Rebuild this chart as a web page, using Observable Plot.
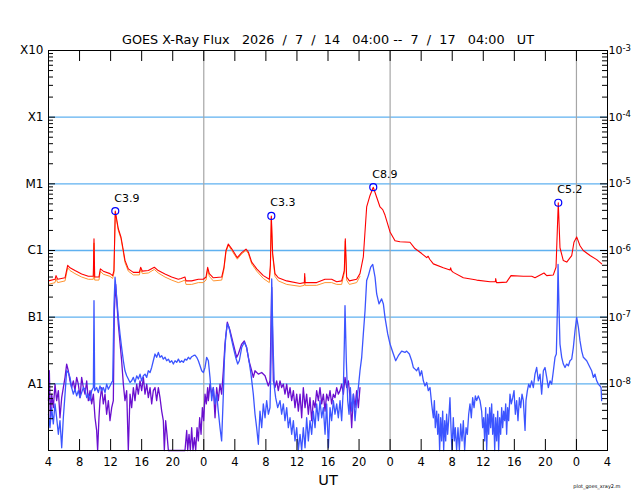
<!DOCTYPE html>
<html><head><meta charset="utf-8">
<script src="https://cdn.jsdelivr.net/npm/d3@7"></script>
<script src="https://cdn.jsdelivr.net/npm/@observablehq/plot@0.6"></script>
<style>
body{margin:0;background:#fff;}
svg text{white-space:pre;}
</style></head><body><div id="chart"></div>
<script>
// time axis: hours since 2026-07-14 04:00 UT
const startUTC = Date.UTC(2026, 6, 14, 4);
const endUTC = Date.UTC(2026, 6, 17, 4);
const titleText = "GOES X-Ray Flux   2026  /  7  /  14   04:00 --  7  /  17   04:00   UT";
const levelValues = [1e-3, 1e-4, 1e-5, 1e-6, 1e-7, 1e-8];
const levelLabels = ["X10", "X1", "M1", "C1", "B1", "A1"];
const powerExponents = ["-3", "-4", "-5", "-6", "-7", "-8"];
const gridLevels = [1e-4, 1e-5, 1e-6, 1e-7, 1e-8];
const midnights = [Date.UTC(2026, 6, 15), Date.UTC(2026, 6, 16), Date.UTC(2026, 6, 17)];

const flares = [
  {t: 8.6, flux: 3.9e-6, label: "C3.9"},
  {t: 28.7, flux: 3.3e-6, label: "C3.3"},
  {t: 41.83, flux: 8.9e-6, label: "C8.9"},
  {t: 65.66, flux: 5.2e-6, label: "C5.2"}
];

// 1-8 A primary (red)
const longPrimary = [
[0,3.5e-7],[0.84,3.7e-7],[0.97,4.2e-7],[1.18,3.7e-7],[2.13,3.9e-7],[2.47,6.0e-7],[2.77,5.5e-7],[3.41,5.0e-7],
[4.27,4.45e-7],[5.13,4.1e-7],[5.77,4.1e-7],[5.86,1.5e-6],[5.95,4.0e-7],[6.5,4.0e-7],[6.68,5.3e-7],[7.06,4.9e-7],
[7.92,4.5e-7],[8.26,4.2e-7],[8.43,5e-7],[8.6,3.9e-6],[8.99,2.12e-6],[9.34,1.58e-6],[9.64,1.0e-6],[9.85,7.1e-7],
[10.28,5.3e-7],[10.92,4.7e-7],[11.7,4.7e-7],[11.87,5.6e-7],[12.09,4.9e-7],[12.86,5.0e-7],[13.63,5.6e-7],[14.14,5.0e-7],
[15.0,4.45e-7],[15.86,4.0e-7],[16.72,3.7e-7],[17.07,3.8e-7],[17.58,4.0e-7],[17.71,3.5e-7],[18.44,3.5e-7],[19.3,3.7e-7],
[19.94,3.7e-7],[20.29,4.0e-7],[20.5,5.6e-7],[20.71,4.5e-7],[21.23,3.9e-7],[22.31,4.0e-7],[22.6,5.6e-7],[22.86,1.0e-6],
[23.16,1.25e-6],[23.6,1.06e-6],[24.32,7.8e-7],[24.88,9.3e-7],[25.44,1.05e-6],[25.74,9.5e-7],[26.17,6.7e-7],[26.82,5.3e-7],
[27.67,4.2e-7],[28.44,3.7e-7],[28.58,6e-7],[28.7,3.3e-6],[28.87,9e-7],[29.17,4.5e-7],[29.6,3.9e-7],[30.68,3.5e-7],
[32.39,3.2e-7],[32.95,3.3e-7],[33.0,4.5e-7],[33.05,3.3e-7],[33.68,3.3e-7],[34.54,3.3e-7],[35.61,3.7e-7],[36.47,3.7e-7],
[37.12,3.4e-7],[37.76,3.5e-7],[38.1,5e-7],[38.23,1.5e-6],[38.4,4e-7],[38.75,3.5e-7],[39.69,3.7e-7],[40.12,4.5e-7],
[40.55,8e-7],[40.98,4.5e-6],[41.41,6.7e-6],[41.83,8.9e-6],[42.27,6.3e-6],[42.7,4.5e-6],[43.05,4.1e-6],[43.34,3.4e-6],
[43.99,1.9e-6],[44.63,1.4e-6],[45.27,1.35e-6],[46.56,1.33e-6],[47.2,1.07e-6],[48.07,9e-7],[48.71,7.8e-7],[48.9,8.2e-7],
[49.1,7.4e-7],[49.57,6.3e-7],[50.85,5.5e-7],[51.71,5.1e-7],[51.8,5.5e-7],[51.9,5.0e-7],[52.14,4.7e-7],[53.43,3.9e-7],
[55.15,3.6e-7],[56.87,3.4e-7],[57.55,3.4e-7],[57.6,3.8e-7],[57.7,3.3e-7],[57.94,3.3e-7],[59.0,3.35e-7],[59.57,4.2e-7],
[61.15,4.1e-7],[62.24,4.1e-7],[62.66,3.9e-7],[63.82,4.6e-7],[64.17,4.2e-7],[65.02,4.3e-7],[65.37,5.6e-7],[65.66,5.2e-6],
[65.88,1.1e-6],[66.3,7.1e-7],[66.75,6.7e-7],[67.39,8.4e-7],[67.68,1.33e-6],[68.03,1.6e-6],[68.46,1.18e-6],[68.88,1.0e-6],
[69.75,8.4e-7],[70.61,7.3e-7],[71.25,6.3e-7]
];

// 1-8 A secondary (orange)
const longSecondary = [
[0,3.1e-7],[0.84,3.3e-7],[0.97,3.8e-7],[1.18,3.3e-7],[2.13,3.5e-7],[2.47,5.5e-7],[2.77,5.0e-7],[3.41,4.5e-7],
[4.27,4.0e-7],[5.13,3.7e-7],[5.77,3.7e-7],[5.86,1.3e-6],[5.95,3.6e-7],[6.5,3.6e-7],[6.68,4.9e-7],[7.06,4.4e-7],
[7.92,4.1e-7],[8.26,3.8e-7],[8.43,4.6e-7],[8.6,3.7e-6],[8.99,2.0e-6],[9.34,1.5e-6],[9.64,9.4e-7],[9.85,6.6e-7],
[10.28,4.9e-7],[10.92,4.3e-7],[11.7,4.3e-7],[11.87,5.2e-7],[12.09,4.5e-7],[12.86,4.6e-7],[13.63,5.2e-7],[14.14,4.6e-7],
[15.0,4.0e-7],[15.86,3.6e-7],[16.72,3.3e-7],[17.07,3.4e-7],[17.58,3.6e-7],[17.71,3.1e-7],[18.44,3.1e-7],[19.3,3.3e-7],
[19.94,3.3e-7],[20.29,3.6e-7],[20.5,5.2e-7],[20.71,4.1e-7],[21.23,3.5e-7],[22.31,3.6e-7],[22.6,5.2e-7],[22.86,9.5e-7],
[23.16,1.2e-6],[23.6,1.0e-6],[24.32,7.4e-7],[24.88,8.9e-7],[25.44,1.0e-6],[25.74,9.0e-7],[26.17,6.3e-7],[26.82,4.9e-7],
[27.67,3.8e-7],[28.44,3.3e-7],[28.58,5.5e-7],[28.7,3.1e-6],[28.87,8.5e-7],[29.17,4.1e-7],[29.6,3.5e-7],[30.68,3.1e-7],
[32.39,2.9e-7],[32.95,3.0e-7],[33.0,4.0e-7],[33.05,3.0e-7],[33.68,3.0e-7],[34.54,3.0e-7],[35.61,3.3e-7],[36.47,3.3e-7],
[37.12,3.1e-7],[37.76,3.1e-7],[38.1,4.6e-7],[38.23,1.4e-6],[38.4,3.6e-7],[38.75,3.1e-7],[39.69,3.3e-7],[40.12,4.1e-7]
];

// 0.5-4 A primary (blue)
const shortPrimary = [
[0,3.5e-9],[0.19,2.2e-9],[0.41,4.4e-9],[0.62,2.5e-9],[0.84,5.0e-9],[1.05,3.1e-9],[1.27,1.75e-9],[1.48,2.8e-9],
[1.70,1.1e-9],[1.91,3.1e-9],[2.13,7.0e-9],[2.34,1.57e-8],[2.55,1.48e-8],[2.77,1.25e-8],[2.98,8.8e-9],[3.20,7.0e-9],
[3.41,8.3e-9],[3.63,6.6e-9],[3.84,7.9e-9],[4.06,6.2e-9],[4.27,7.4e-9],[4.49,8.8e-9],[4.70,8.3e-9],[4.92,6.2e-9],
[5.13,7.0e-9],[5.35,5.6e-9],[5.56,7.9e-9],[5.78,8.8e-9],[5.86,1.77e-7],[5.95,7.9e-9],[6.20,8.8e-9],[6.42,7.4e-9],
[6.63,9.3e-9],[6.85,7.9e-9],[7.06,8.8e-9],[7.28,7.4e-9],[7.49,9.9e-9],[7.71,8.3e-9],[7.92,9.3e-9],[8.14,1.05e-8],
[8.27,1.11e-8],[8.44,1.58e-7],[8.57,3.97e-7],[8.78,1.99e-7],[8.99,9.95e-8],[9.21,5.6e-8],[9.42,3.5e-8],[9.64,2.22e-8],
[9.85,1.57e-8],[10.07,1.32e-8],[10.28,1.18e-8],[10.50,1.05e-8],[10.71,1.11e-8],[10.93,1.25e-8],[11.14,1.05e-8],[11.36,1.32e-8],
[11.57,1.18e-8],[11.79,1.4e-8],[12.00,1.11e-8],[12.22,1.32e-8],[12.43,1.4e-8],[12.65,1.25e-8],[12.86,1.57e-8],[13.08,1.48e-8],
[13.29,1.76e-8],[13.50,2.22e-8],[13.72,2.8e-8],[13.93,2.5e-8],[14.15,2.96e-8],[14.36,2.5e-8],[14.58,2.64e-8],[14.79,2.35e-8],
[15.01,2.5e-8],[15.22,2.22e-8],[15.44,2.35e-8],[15.65,2.1e-8],[15.87,2.22e-8],[16.08,1.98e-8],[16.30,2.22e-8],[16.51,2.1e-8],
[16.73,2.35e-8],[16.94,2.1e-8],[17.15,2.22e-8],[17.37,2.1e-8],[17.58,2.35e-8],[17.80,2.27e-8],[18.01,2.5e-8],[18.23,2.35e-8],
[18.44,2.55e-8],[18.66,2.64e-8],[18.87,2.7e-8],[19.09,2.5e-8],[19.30,2.22e-8],[19.52,1.87e-8],[19.73,1.57e-8],[19.95,1.48e-8],
[20.16,1.76e-8],[20.37,2.5e-8],[20.59,2.22e-8],[20.80,1.25e-8],[21.02,5.6e-9],[21.23,8.8e-9],[21.45,5.0e-9],[21.66,7.0e-9],
[21.87,3.9e-9],[22.09,2.2e-9],[22.30,1.39e-9],[22.52,7.0e-9],[22.65,2.22e-8],[22.82,5.0e-8],[23.03,7.9e-8],[23.25,7.05e-8],
[23.51,5.0e-8],[23.81,3.5e-8],[24.11,2.5e-8],[24.37,1.98e-8],[24.58,2.22e-8],[24.88,3.5e-8],[25.22,4.2e-8],[25.52,3.5e-8],
[25.82,2.22e-8],[26.08,1.4e-8],[26.38,7.0e-9],[26.60,3.5e-9],[26.81,2.2e-9],[27.03,1.24e-9],[27.24,3.9e-9],[27.46,2.2e-9],
[27.67,5.0e-9],[27.89,3.1e-9],[28.10,5.6e-9],[28.32,3.5e-9],[28.53,4.4e-9],[28.66,2.22e-8],[28.75,3.75e-7],[28.92,3.95e-8],
[29.09,8.8e-9],[29.26,6.2e-9],[29.52,4.4e-9],[29.82,5.6e-9],[30.03,3.5e-9],[30.25,5.0e-9],[30.46,2.8e-9],[30.68,4.4e-9],
[30.89,2.2e-9],[31.11,3.1e-9],[31.32,1.75e-9],[31.54,2.8e-9],[31.75,1.39e-9],[31.97,2.2e-9],[32.18,1e-9],[32.40,1.75e-9],
[32.61,1e-9],[32.82,2.2e-9],[33.04,1.1e-9],[33.25,3.1e-9],[33.47,1.39e-9],[33.68,2.8e-9],[33.90,1.75e-9],[34.11,3.9e-9],
[34.33,2.2e-9],[34.54,5.0e-9],[34.76,2.8e-9],[34.97,5.6e-9],[35.19,3.1e-9],[35.40,4.4e-9],[35.62,1.75e-9],[35.83,5.0e-9],
[36.05,1.1e-9],[36.26,4.4e-9],[36.47,2.8e-9],[36.69,5.6e-9],[36.90,3.5e-9],[37.12,5.0e-9],[37.33,3.1e-9],[37.55,5.6e-9],
[37.76,2.8e-9],[37.98,8.8e-9],[38.11,4.4e-8],[38.19,1.49e-7],[38.36,2.22e-8],[38.54,5.6e-9],[38.71,3.5e-9],[38.88,8.8e-9],
[39.05,3.9e-9],[39.27,7.0e-9],[39.48,2.8e-9],[39.69,5.6e-9],[39.91,8.8e-9],[40.12,1.57e-8],[40.34,2.5e-8],[40.55,5.6e-8],
[40.77,1.25e-7],[40.98,3.54e-7],[41.20,4.2e-7],[41.50,5.62e-7],[41.76,6.17e-7],[42.06,3.97e-7],[42.27,2.23e-7],[42.57,1.58e-7],
[42.91,1.88e-7],[43.13,1.58e-7],[43.34,9.95e-8],[43.69,5.6e-8],[43.99,3.95e-8],[44.42,2.8e-8],[44.72,2.22e-8],[45.06,2.64e-8],
[45.49,3.1e-8],[45.92,2.96e-8],[46.13,3.1e-8],[46.48,2.8e-8],[46.78,2.22e-8],[46.99,1.76e-8],[47.21,1.66e-8],[47.42,1.57e-8],
[47.64,1.76e-8],[47.85,1.32e-8],[48.06,1.57e-8],[48.28,1.11e-8],[48.49,9.3e-9],[48.71,1.05e-8],[48.92,7.9e-9],[49.14,8.8e-9],
[49.35,5.0e-9],[49.57,3.1e-9],[49.70,5.6e-9],[49.82,2.2e-9],[50.00,3.9e-9],[50.13,1.75e-9],[50.25,3.5e-9],[50.38,1e-9],
[50.51,3.1e-9],[50.64,1.39e-9],[50.77,3.9e-9],[50.90,1e-9],[51.03,2.8e-9],[51.16,1.39e-9],[51.28,3.5e-9],[51.41,1.75e-9],
[51.54,2.8e-9],[51.71,6.2e-9],[51.84,2.2e-9],[51.97,1e-9],[52.14,3.1e-9],[52.27,1.39e-9],[52.40,2.2e-9],[52.57,1e-9],
[52.74,2.2e-9],[52.92,1e-9],[53.09,2.5e-9],[53.26,1.39e-9],[53.43,2.8e-9],[53.60,1e-9],[53.78,2.2e-9],[53.95,1.75e-9],
[54.12,3.5e-9],[54.29,5.0e-9],[54.46,3.1e-9],[54.63,6.2e-9],[54.81,4.4e-9],[54.98,6.6e-9],[55.15,5.6e-9],[55.36,6.6e-9],
[55.58,5.6e-9],[55.79,3.9e-9],[55.92,2.2e-9],[56.05,3.1e-9],[56.18,1.39e-9],[56.31,4.4e-9],[56.44,1e-9],[56.57,3.5e-9],
[56.70,1.75e-9],[56.82,4.4e-9],[56.95,2.2e-9],[57.08,5.0e-9],[57.21,1.75e-9],[57.34,3.5e-9],[57.47,1e-9],[57.60,3.1e-9],
[57.73,1.39e-9],[57.86,3.9e-9],[57.98,1e-9],[58.11,3.1e-9],[58.24,1.75e-9],[58.37,4.4e-9],[58.50,2.2e-9],[58.63,3.9e-9],
[58.76,2.8e-9],[58.89,5.0e-9],[59.01,1.75e-9],[59.14,4.4e-9],[59.27,2.8e-9],[59.44,7.0e-9],[59.61,5.0e-9],[59.79,6.2e-9],
[59.96,7.9e-9],[60.13,3.5e-9],[60.30,5.6e-9],[60.47,2.8e-9],[60.65,6.2e-9],[60.82,4.4e-9],[60.99,7.0e-9],[61.16,5.6e-9],
[61.38,2.0e-9],[61.50,5.6e-9],[61.68,7.9e-9],[61.85,9.9e-9],[62.02,8.8e-9],[62.23,1.11e-8],[62.45,8.8e-9],[62.66,1.4e-8],
[62.88,1.76e-8],[63.09,1.11e-8],[63.31,1.4e-8],[63.52,7.0e-9],[63.74,1.57e-8],[63.95,1.76e-8],[64.17,1.25e-8],[64.38,8.8e-9],
[64.60,1.11e-8],[64.81,9.9e-9],[65.03,1.57e-8],[65.24,2.5e-8],[65.41,2.8e-8],[65.54,1.25e-7],[65.63,6.17e-7],[65.76,1.25e-7],
[65.88,3.95e-8],[66.10,2.5e-8],[66.31,1.98e-8],[66.53,1.76e-8],[66.74,1.98e-8],[66.96,1.87e-8],[67.17,2.22e-8],[67.39,2.35e-8],
[67.60,3.5e-8],[67.82,6.3e-8],[68.03,9.95e-8],[68.25,7.05e-8],[68.46,4.4e-8],[68.68,3.1e-8],[68.89,2.5e-8],[69.32,2.22e-8],
[69.75,1.76e-8],[69.96,1.57e-8],[70.18,1.25e-8],[70.39,1.4e-8],[70.61,1.11e-8],[70.82,9.9e-9],[71.04,9.3e-9],[71.17,8.8e-9],
[71.25,5.6e-9]
];

// 0.5-4 A secondary (purple)
const shortSecondary = [
[0,5.6e-9],[0.11,1.57e-8],[0.24,2.8e-9],[0.41,7.0e-9],[0.62,4.4e-9],[0.84,9.9e-9],[1.05,5.6e-9],[1.27,7.9e-9],
[1.48,3.1e-9],[1.70,6.2e-9],[1.91,8.8e-9],[2.13,1.25e-8],[2.34,1.98e-8],[2.55,1.57e-8],[2.77,1.11e-8],[2.98,8.8e-9],
[3.20,1.11e-8],[3.41,7.9e-9],[3.63,1.25e-8],[3.84,9.9e-9],[4.06,6.2e-9],[4.27,1.25e-8],[4.49,8.8e-9],[4.70,7.0e-9],
[4.92,1.11e-8],[5.13,5.6e-9],[5.35,7.9e-9],[5.56,5.0e-9],[5.78,7.0e-9],[5.99,3.1e-9],[6.20,2.0e-9],[6.33,1e-9],
[6.50,3.1e-9],[6.63,5.6e-9],[6.85,8.8e-9],[7.06,5.0e-9],[7.28,7.0e-9],[7.49,3.5e-9],[7.71,5.6e-9],[7.92,2.8e-9],
[8.14,4.4e-9],[8.35,5.6e-9],[8.48,1.25e-7],[8.65,3.1e-7],[8.99,7.9e-8],[9.42,2.22e-8],[9.64,9.9e-9],[9.85,5.6e-9],
[10.07,7.9e-9],[10.28,1e-9],[10.50,7.0e-9],[10.71,4.4e-9],[10.93,8.8e-9],[11.14,5.6e-9],[11.36,9.9e-9],[11.57,7.0e-9],
[11.79,1.11e-8],[12.00,7.9e-9],[12.22,1.25e-8],[12.43,7.0e-9],[12.65,9.9e-9],[12.86,6.2e-9],[13.08,8.8e-9],[13.29,5.0e-9],
[13.50,7.9e-9],[13.72,8.8e-9],[13.93,5.6e-9],[14.15,8.8e-9],[14.36,6.2e-9],[14.58,3.9e-9],[14.79,2.8e-9],[14.92,1e-9],
[15.09,2.8e-9],[15.26,1.75e-9],[15.44,1e-9],[17.58,1e-9],[17.80,2.0e-9],[17.93,1e-9],[18.10,1.75e-9],[18.27,1e-9],
[18.44,2.2e-9],[18.61,1e-9],[18.79,1.56e-9],[18.96,1e-9],[19.13,2.2e-9],[19.30,1.39e-9],[19.47,3.1e-9],[19.65,1.75e-9],
[19.82,4.4e-9],[19.99,2.8e-9],[20.16,7.0e-9],[20.33,5.0e-9],[20.50,8.8e-9],[20.59,5.6e-9],[20.80,9.9e-9],[21.02,7.0e-9],
[21.23,8.8e-9],[21.45,3.1e-9],[21.66,8.8e-9],[21.87,5.6e-9],[22.09,9.9e-9],[22.30,7.0e-9],[22.52,1.57e-8],[22.73,3.95e-8],
[23.03,8.4e-8],[23.38,6.3e-8],[23.81,3.95e-8],[24.24,2.5e-8],[24.45,2.8e-8],[24.88,3.95e-8],[25.22,4.4e-8],[25.52,3.5e-8],
[25.82,2.22e-8],[26.17,1.57e-8],[26.38,1.25e-8],[26.60,1.57e-8],[27.03,1.4e-8],[27.46,1.48e-8],[27.89,1.32e-8],[28.10,1.11e-8],
[28.32,9.3e-9],[28.53,1.11e-8],[28.75,2.8e-7],[28.96,1.11e-8],[29.17,8.8e-9],[29.39,1.11e-8],[29.60,7.9e-9],[29.82,1.11e-8],
[30.03,8.8e-9],[30.25,9.9e-9],[30.46,7.0e-9],[30.68,9.9e-9],[30.89,6.2e-9],[31.11,8.8e-9],[31.32,5.6e-9],[31.54,7.9e-9],
[31.75,4.4e-9],[31.97,7.0e-9],[32.18,3.9e-9],[32.40,7.0e-9],[32.61,3.1e-9],[32.82,8.8e-9],[33.04,4.4e-9],[33.25,7.0e-9],
[33.47,3.5e-9],[33.68,6.2e-9],[33.90,2.8e-9],[34.11,5.6e-9],[34.33,4.4e-9],[34.54,7.9e-9],[34.76,5.6e-9],[34.97,8.8e-9],
[35.19,5.0e-9],[35.40,7.0e-9],[35.62,3.9e-9],[35.83,7.0e-9],[36.05,5.6e-9],[36.26,7.9e-9],[36.47,5.0e-9],[36.69,7.0e-9],
[36.90,6.2e-9],[37.12,8.8e-9],[37.33,7.0e-9],[37.55,7.9e-9],[37.76,9.9e-9],[37.98,7.0e-9],[38.19,1.25e-8],[38.41,8.8e-9],
[38.62,1.11e-8],[38.84,6.2e-9],[39.05,2.2e-9],[39.27,7.0e-9],[39.48,4.4e-9],[39.69,7.9e-9],[39.91,4.4e-9],[40.12,8.8e-9]
];

const toDate = t => new Date(startUTC + t * 3600000);
const W = 640, H = 500, mL = 48, mR = 33, mT = 50, mB = 50;
const frameW = W - mL - mR, frameH = H - mT - mB;

const hourTicks = d3.utcHour.range(new Date(startUTC), new Date(endUTC + 1), 4);
const minorTicks = [];
for (let e = -9; e < -3; e++) for (let m = 2; m <= 9; m++) minorTicks.push(m * Math.pow(10, e));

const lineOpts = (c, w) => ({x: d => toDate(d[0]), y: d => d[1], stroke: c, strokeWidth: w, curve: "linear"});

const chart = Plot.plot({
  width: W, height: H,
  marginLeft: mL, marginRight: mR, marginTop: mT, marginBottom: mB,
  style: {fontFamily: "'DejaVu Sans', sans-serif", fontSize: "12px", background: "#fff", color: "#000"},
  x: {type: "utc", domain: [new Date(startUTC), new Date(endUTC)]},
  y: {type: "log", domain: [1e-9, 1e-3]},
  marks: [
    Plot.ruleY(gridLevels, {y: d => d, stroke: "#5fb1f0", strokeWidth: 1.3}),
    Plot.ruleX(midnights, {x: d => new Date(d), stroke: "#a6a6a6", strokeWidth: 1.2}),
    Plot.line(shortSecondary, lineOpts("#6a0fcf", 1.3)),
    Plot.line(shortPrimary, lineOpts("#3c55ff", 1.3)),
    Plot.line(longSecondary, lineOpts("#ff9430", 1.0)),
    Plot.line(longPrimary, lineOpts("#ff0000", 1.1)),
    Plot.frame({stroke: "#000", strokeWidth: 1}),
    // inward time ticks, top and bottom
    Plot.tickX(hourTicks, {x: d => d, stroke: "#000", insetBottom: frameH - 11}),
    Plot.tickX(hourTicks, {x: d => d, stroke: "#000", insetTop: frameH - 11}),
    // inward log ticks, left and right
    Plot.tickY(levelValues, {y: d => d, stroke: "#000", insetRight: frameW - 7}),
    Plot.tickY(minorTicks, {y: d => d, stroke: "#000", insetRight: frameW - 5}),
    Plot.tickY(levelValues, {y: d => d, stroke: "#000", insetLeft: frameW - 7}),
    Plot.tickY(minorTicks, {y: d => d, stroke: "#000", insetLeft: frameW - 5}),
    Plot.axisY(levelValues, {anchor: "left", tickSize: 0, tickPadding: 5, fontSize: 12, label: null,
      tickFormat: d => levelLabels[levelValues.indexOf(d)]}),
    Plot.axisY(levelValues, {anchor: "right", tickSize: 0, tickPadding: 1, fontSize: 11, label: null,
      tickFormat: d => "10" + powerExponents[levelValues.indexOf(d)]}),
    Plot.axisX(hourTicks, {anchor: "bottom", tickSize: 0, tickPadding: 7, fontSize: 11.5, label: null,
      tickFormat: d => String(d.getUTCHours())}),
    Plot.dot(flares, {x: d => toDate(d.t), y: "flux", r: 3.5, stroke: "#0000ff", strokeWidth: 1.2, fill: "none"}),
    Plot.text(flares, {x: d => toDate(d.t), y: "flux", text: "label", dx: -1, dy: -13, textAnchor: "start", fontSize: 11}),
    Plot.text([titleText], {text: d => d.replace(/ /g, "\u00a0"), frameAnchor: "top", dy: -7, lineAnchor: "bottom", fontSize: 12.8}),
    Plot.text(["UT"], {text: d => d, frameAnchor: "bottom", dy: 34, lineAnchor: "bottom", fontSize: 14.5}),
    Plot.text(["plot_goes_xray2.m"], {text: d => d, frameAnchor: "bottom-right", dx: 13, dy: 37, textAnchor: "end", lineAnchor: "bottom", fontSize: 5})
  ]
});
// render right-axis exponents as superscripts
d3.select(chart).selectAll("text").each(function () {
  const s = this.textContent;
  const m = /^10(-\d)$/.exec(s);
  if (m) {
    const el = d3.select(this);
    el.text("10");
    el.append("tspan").attr("dy", "-0.4em").attr("font-size", "8.5px").text(m[1]);
  }
});
document.getElementById("chart").appendChild(chart);
</script></body></html>
